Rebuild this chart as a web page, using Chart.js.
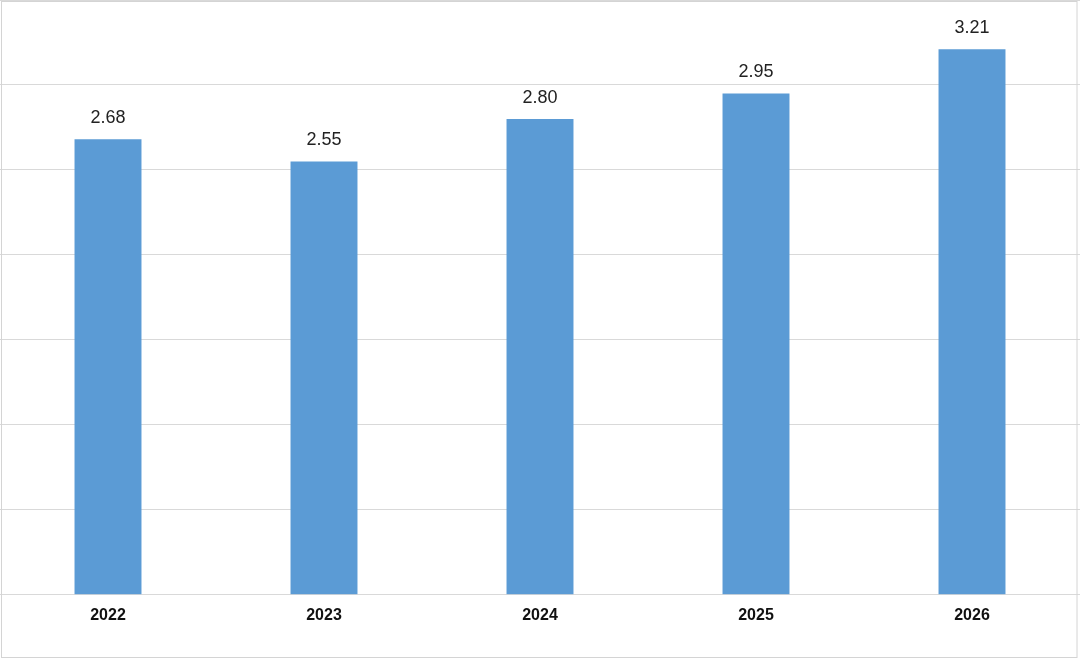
<!DOCTYPE html>
<html>
<head>
<meta charset="utf-8">
<style>
  html, body { margin: 0; padding: 0; background: #ffffff; }
  #wrap { width: 1080px; height: 660px; position: relative; }
  canvas { display: block; }
</style>
<script src="https://cdn.jsdelivr.net/npm/chart.js@4/dist/chart.umd.min.js"></script>
</head>
<body>
<div id="wrap"><canvas id="c" width="1080" height="660"></canvas></div>
<script>
const categories = ['2022', '2023', '2024', '2025', '2026'];
const values = [2.68, 2.55, 2.80, 2.95, 3.21];
const valueLabels = ['2.68', '2.55', '2.80', '2.95', '3.21'];

const valueLabelPlugin = {
  id: 'valueLabels',
  afterDatasetsDraw(chart) {
    const ctx = chart.ctx;
    const meta = chart.getDatasetMeta(0);
    ctx.save();
    ctx.font = '18px "Liberation Sans", Arial, sans-serif';
    ctx.fillStyle = '#222222';
    ctx.textAlign = 'center';
    ctx.textBaseline = 'bottom';
    meta.data.forEach((bar, i) => {
      ctx.fillText(valueLabels[i], bar.x, bar.y - 12);
    });
    ctx.restore();
  }
};

const framePlugin = {
  id: 'frame',
  afterDraw(chart) {
    const ctx = chart.ctx;
    ctx.save();
    ctx.strokeStyle = '#d4d4d4';
    ctx.lineWidth = 1;
    ctx.strokeRect(1.5, 1.5, 1075.5, 656);
    ctx.restore();
  }
};

new Chart(document.getElementById('c'), {
  type: 'bar',
  data: {
    labels: categories,
    datasets: [{
      data: values,
      backgroundColor: '#5b9bd5',
      borderWidth: 0,
      categoryPercentage: 1.0,
      barPercentage: 0.31
    }]
  },
  options: {
    responsive: false,
    animation: false,
    devicePixelRatio: 1,
    layout: { padding: { left: 0, right: 0, top: 0, bottom: 24 } },
    plugins: {
      legend: { display: false },
      tooltip: { enabled: false }
    },
    scales: {
      x: {
        grid: { display: false, drawTicks: false },
        border: { display: false },
        ticks: {
          color: '#111111',
          padding: 11,
          font: { family: '"Liberation Sans", Arial, sans-serif', size: 16, weight: 'bold' }
        }
      },
      y: {
        min: 0,
        max: 3.5,
        ticks: { display: false, stepSize: 0.5 },
        grid: { color: '#d9d9d9', lineWidth: 1, drawTicks: false },
        border: { display: false }
      }
    }
  },
  plugins: [valueLabelPlugin, framePlugin]
});
</script>
</body>
</html>
